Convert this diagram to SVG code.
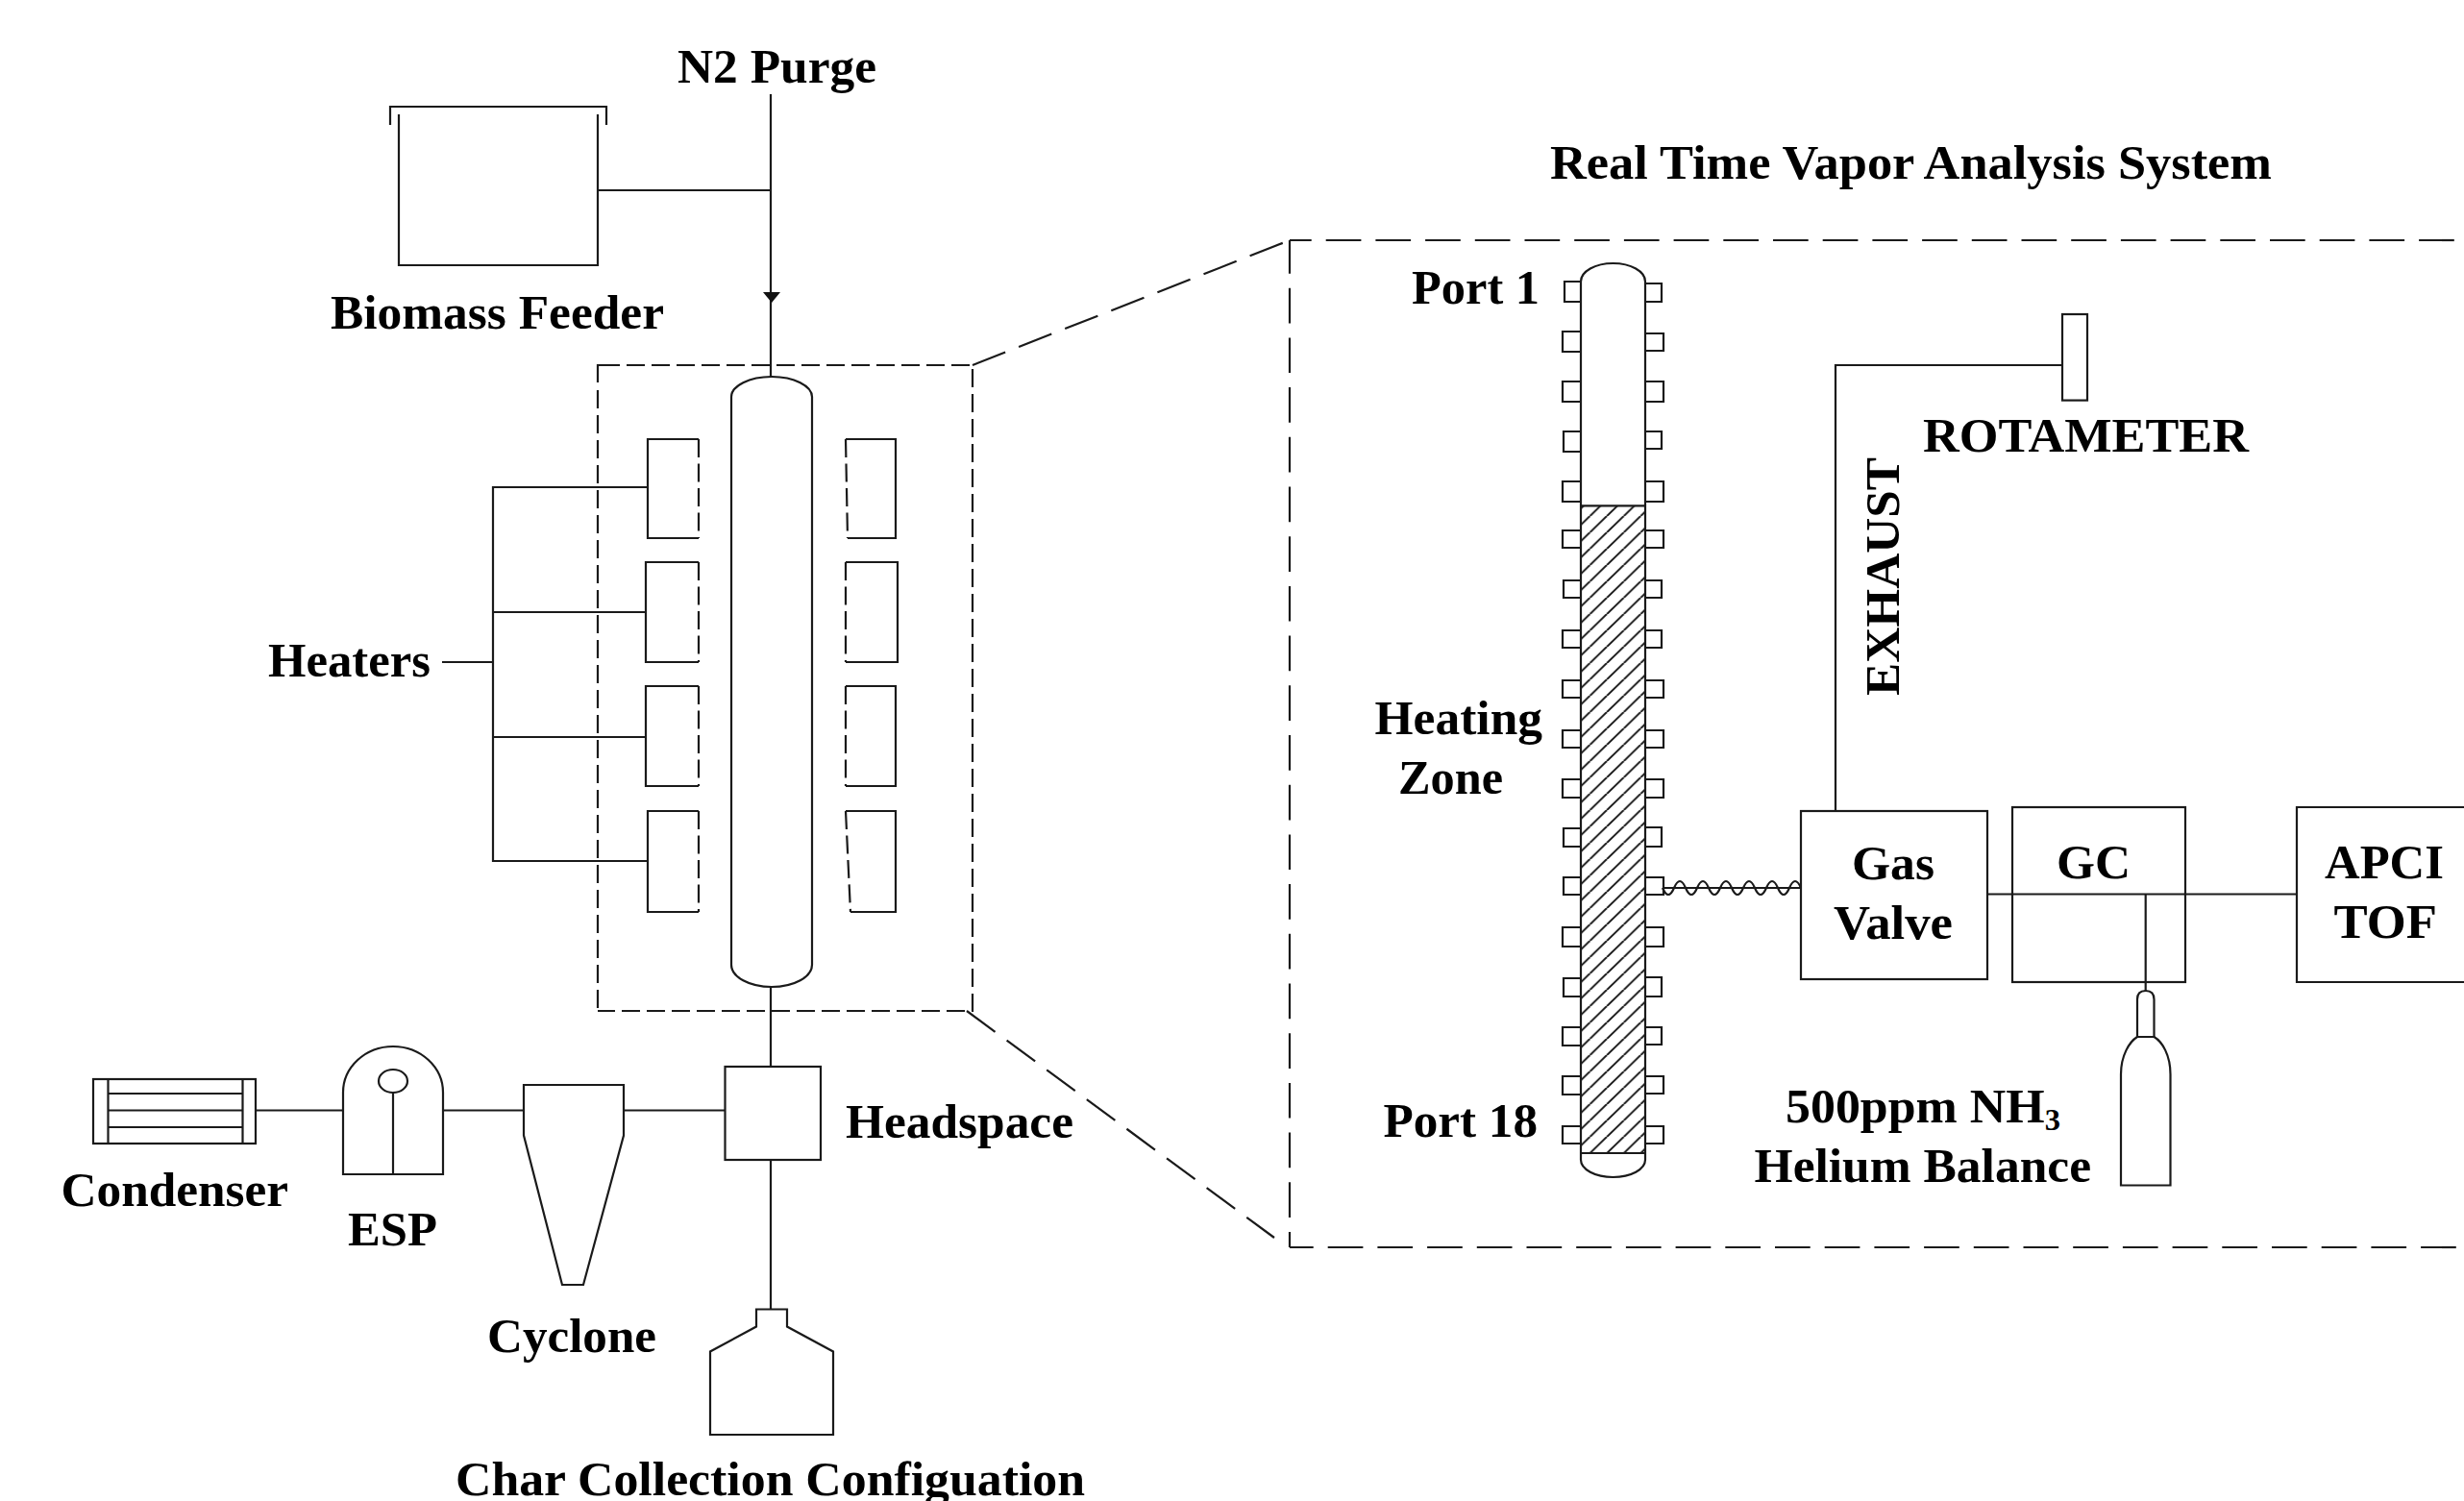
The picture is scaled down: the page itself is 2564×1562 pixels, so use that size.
<svg xmlns="http://www.w3.org/2000/svg" width="2564" height="1562" viewBox="0 0 2564 1562">
<style>
.s{fill:none;stroke:#1a1a1a;stroke-width:2.2}
.d1{fill:none;stroke:#1a1a1a;stroke-width:2.2;stroke-dasharray:19 7}
.d2{fill:none;stroke:#1a1a1a;stroke-width:2.2;stroke-dasharray:36.7 15}
.dh{fill:none;stroke:#1a1a1a;stroke-width:2.2;stroke-dasharray:19 6.5}
.t{font-family:"Liberation Serif","Times New Roman",serif;font-weight:bold;font-size:51px;fill:#000}
</style>
<defs>
<pattern id="hatch" patternUnits="userSpaceOnUse" x="1654.5" y="1183" width="17.6" height="17">
<path d="M-2 19L19.6 -2M-17.6 17L0 0M17.6 17L35.2 0" stroke="#1a1a1a" stroke-width="2" fill="none"/>
</pattern>
</defs>
<rect width="2564" height="1562" fill="#fff"/>

<g id="connectors">
<path class="s" d="M802 98V392"/>
<path d="M794 304H812L803 315Z" fill="#111"/>
<path class="s" d="M622 198H802"/>
<path class="s" d="M460 689H513M674 507H513V896H674M513 637H672M513 767H672"/>
<path class="s" d="M802 1027V1110M802 1207V1362.5"/>
<path class="s" d="M266 1155.5H357M461 1155.5H545M649 1155.5H754.5"/>
<path class="s" d="M1910 844V380H2146"/>
<path class="s" d="M2068 930.5H2390M2232.7 930.5V1031"/>
<path class="s" d="M1731 924H1874"/>
<path class="s" d="M1730 924q6 14 12 0t12 0t12 0t12 0t12 0t12 0t12 0t12 0t12 0t12 0t12 0t12 0"/>
</g>

<g id="zoom-guides">
<path class="s" d="M622 398V380H645"/>
<path class="d1" d="M652 380H1012V1052H622"/>
<path class="d1" d="M622 406V1052"/>
<path class="d2" d="M1012 380L1342 250"/>
<path class="d2" d="M1006 1052L1326 1288"/>
<path class="d2" stroke-dashoffset="14" d="M1342 250H2564"/>
<path class="d2" stroke-dashoffset="2" d="M1342 250V1298"/>
<path class="d2" stroke-dashoffset="12" d="M1342 1298H2564"/>
</g>

<g id="biomass-feeder">
<path class="s" d="M406 130V111H631V130M415 119V276H622V119"/>
<text class="t" x="344" y="342" textLength="347" lengthAdjust="spacingAndGlyphs">Biomass Feeder</text>
</g>
<g id="n2-purge"><text class="t" x="705" y="86" textLength="207" lengthAdjust="spacingAndGlyphs">N2 Purge</text></g>

<g id="reactor">
<path class="s" d="M761 413A42 21 0 0 1 845 413V1004A42 23 0 0 1 761 1004Z"/>
</g>

<g id="heaters">
<path class="s" d="M727 457H674V560H727"/><path class="dh" d="M727 457V560"/>
<path class="s" d="M727 585H672V689H727"/><path class="dh" d="M727 585V689"/>
<path class="s" d="M727 714H672V818H727"/><path class="dh" d="M727 714V818"/>
<path class="s" d="M727 844H674V949H727"/><path class="dh" d="M727 844V949"/>
<path class="s" d="M880 457H932V560H882"/><path class="dh" d="M880 457L882 560"/>
<path class="s" d="M880 585H934V689H880"/><path class="dh" d="M880 585V689"/>
<path class="s" d="M880 714H932V818H880"/><path class="dh" d="M880 714V818"/>
<path class="s" d="M880 844H932V949H885"/><path class="dh" d="M880 844L885 949"/>
<text class="t" x="279" y="704" textLength="169" lengthAdjust="spacingAndGlyphs">Heaters</text>
</g>

<g id="condenser">
<rect class="s" x="97" y="1123" width="169" height="67"/>
<path class="s" d="M112.5 1123V1190M252.5 1123V1190M112.5 1138H252.5M112.5 1155.5H252.5M112.5 1173H252.5"/>
<text class="t" x="63.5" y="1255" textLength="236.5" lengthAdjust="spacingAndGlyphs">Condenser</text>
</g>
<g id="esp">
<path class="s" d="M357 1222V1137A52 48 0 0 1 461 1137V1222Z"/>
<ellipse class="s" cx="409" cy="1125" rx="15" ry="12"/>
<path class="s" d="M409 1137V1222"/>
<text class="t" x="362" y="1296" textLength="93" lengthAdjust="spacingAndGlyphs">ESP</text>
</g>
<g id="cyclone">
<path class="s" d="M545 1129H649V1181.5L607 1337H585L545 1181.5Z"/>
<text class="t" x="507" y="1407" textLength="176" lengthAdjust="spacingAndGlyphs">Cyclone</text>
</g>
<g id="headspace">
<rect class="s" x="754.5" y="1110" width="99.5" height="97"/>
<text class="t" x="880" y="1184" textLength="237" lengthAdjust="spacingAndGlyphs">Headspace</text>
</g>
<g id="char-collection">
<path class="s" d="M787 1362.5H819V1380.5L867 1406.5V1493H739V1406.5L787 1380.5Z"/>
<text class="t" x="474" y="1556" textLength="655" lengthAdjust="spacingAndGlyphs">Char Collection Configuation</text>
</g>

<g id="title"><text class="t" x="1613" y="186" textLength="751" lengthAdjust="spacingAndGlyphs">Real Time Vapor Analysis System</text></g>

<g id="sampling-tube">
<rect x="1645" y="526.4" width="67" height="673.6" fill="url(#hatch)"/>
<path class="s" d="M1645 293A33.5 19 0 0 1 1712 293V1207A33.5 18 0 0 1 1645 1207Z"/>
<path class="s" d="M1645 526.4H1712M1645 1200H1712"/>
</g>
<g id="ports">
<path class="s" d="M1645 293H1628V314H1645M1645 345H1626V366H1645M1645 397H1626V418H1645M1645 449H1627V470H1645M1645 501H1626V522H1645M1645 552H1626V570H1645M1645 604H1627V622H1645M1645 656H1626V674H1645M1645 708H1626V726H1645M1645 760H1626V778H1645M1645 811H1626V830H1645M1645 862H1627V881H1645M1645 913H1627V931H1645M1645 965H1626V985H1645M1645 1018H1627V1037H1645M1645 1069H1626V1088H1645M1645 1120H1626V1139H1645M1645 1172H1626V1190H1645"/>
<path class="s" d="M1712 295H1729V314H1712M1712 347H1731V365H1712M1712 397H1731V418H1712M1712 449H1729V467H1712M1712 501H1731V522H1712M1712 552H1731V570H1712M1712 604H1729V622H1712M1712 656H1729V674H1712M1712 708H1731V726H1712M1712 760H1731V778H1712M1712 811H1731V830H1712M1712 861H1729V881H1712M1712 913H1731V931H1712M1712 965H1731V985H1712M1712 1017H1729V1037H1712M1712 1069H1729V1087H1712M1712 1120H1731V1138H1712M1712 1172H1731V1190H1712"/>
<text class="t" x="1469" y="316" textLength="133" lengthAdjust="spacingAndGlyphs">Port 1</text>
<text class="t" x="1439.5" y="1183" textLength="160.5" lengthAdjust="spacingAndGlyphs">Port 18</text>
<text class="t" x="1430.6" y="764" textLength="174.4" lengthAdjust="spacingAndGlyphs">Heating</text>
<text class="t" x="1455" y="826" textLength="109" lengthAdjust="spacingAndGlyphs">Zone</text>
</g>
<g id="rotameter">
<rect class="s" x="2146" y="327" width="26" height="89.6"/>
<text class="t" x="2001" y="470" textLength="339" lengthAdjust="spacingAndGlyphs">ROTAMETER</text>
</g>
<g id="exhaust"><text class="t" transform="translate(1976 724) rotate(-90)" x="0" y="0" textLength="248" lengthAdjust="spacingAndGlyphs">EXHAUST</text></g>
<g id="gas-valve">
<rect class="s" x="1874" y="844" width="194" height="175"/>
<text class="t" x="1927" y="915" textLength="86" lengthAdjust="spacingAndGlyphs">Gas</text>
<text class="t" x="1908" y="977" textLength="124" lengthAdjust="spacingAndGlyphs">Valve</text>
</g>
<g id="gc">
<rect class="s" x="2094" y="840" width="180" height="182"/>
<text class="t" x="2140" y="914" textLength="77" lengthAdjust="spacingAndGlyphs">GC</text>
</g>
<g id="apci-tof">
<path class="s" d="M2570 840H2390V1022H2570"/>
<text class="t" x="2419" y="914" textLength="124" lengthAdjust="spacingAndGlyphs">APCI</text>
<text class="t" x="2428.6" y="976" textLength="107.4" lengthAdjust="spacingAndGlyphs">TOF</text>
</g>
<g id="gas-cylinder">
<path class="s" d="M2224 1079V1040Q2224 1031 2232.7 1031Q2241.5 1031 2241.5 1040V1079Z"/>
<path class="s" d="M2207 1233.5V1118C2207 1098 2216 1084 2224 1079H2241.5C2250 1084 2258.5 1098 2258.5 1118V1233.5Z"/>
<text class="t" x="1858" y="1168" textLength="286" lengthAdjust="spacingAndGlyphs">500ppm NH<tspan font-size="32" dy="8">3</tspan></text>
<text class="t" x="1825.6" y="1230" textLength="350.4" lengthAdjust="spacingAndGlyphs">Helium Balance</text>
</g>
</svg>
